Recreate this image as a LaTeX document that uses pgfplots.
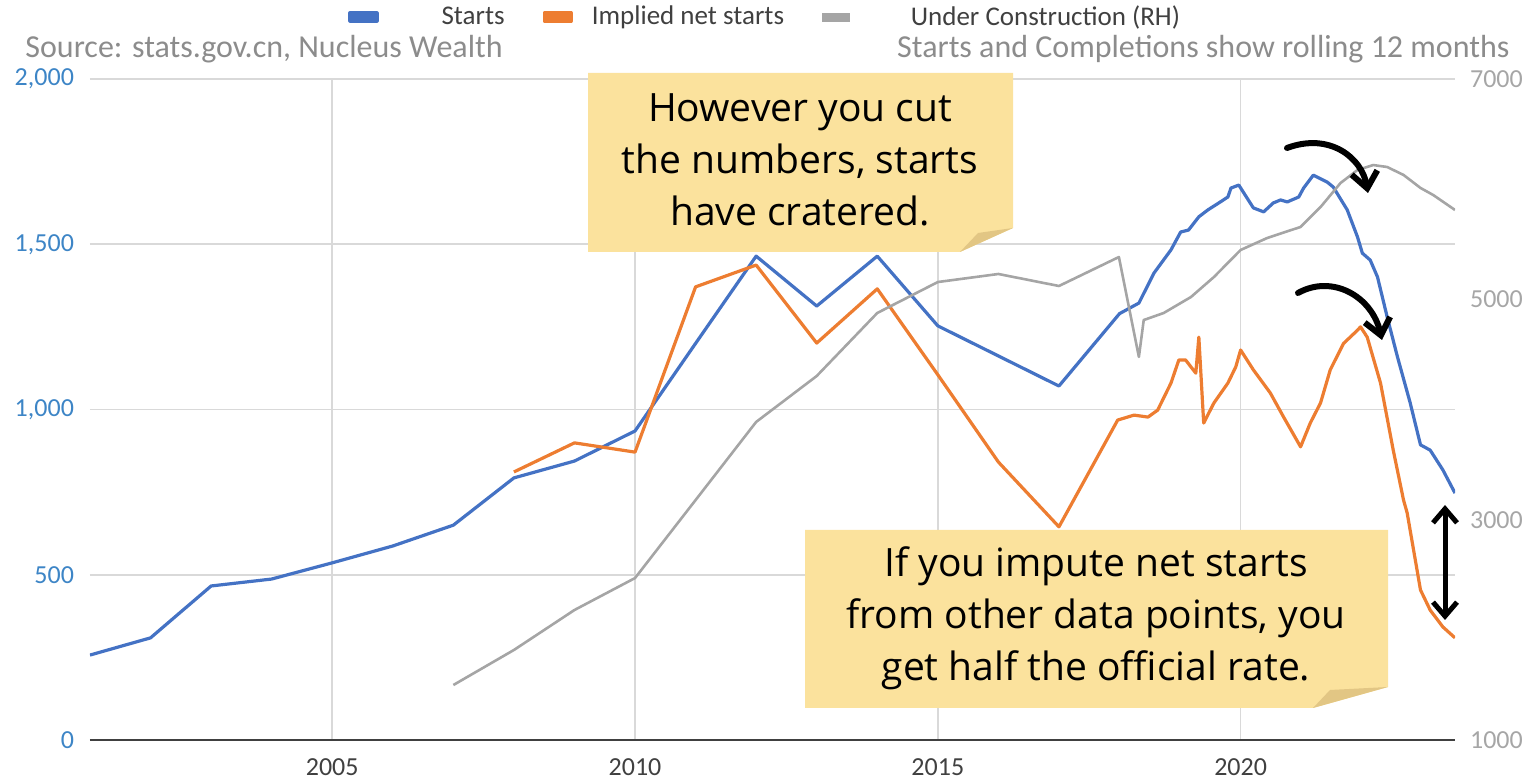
\documentclass[border=0pt]{standalone}
\usepackage{fontspec}
\setmainfont{Carlito}
\newfontfamily\notefont{Open Sans}
\usepackage{pgfplots}
\pgfplotsset{compat=1.18}
\usetikzlibrary{arrows.meta}
\definecolor{cblue}{HTML}{4472C4}
\definecolor{corange}{HTML}{ED7D31}
\definecolor{cgray}{HTML}{A5A5A5}
\definecolor{gridc}{HTML}{D9D9D9}
\definecolor{axisc}{HTML}{404040}
\definecolor{ytl}{HTML}{3D85C6}
\definecolor{rtl}{HTML}{A6A6A6}
\definecolor{xlab}{HTML}{404040}
\definecolor{srcc}{HTML}{8C8C8C}
\definecolor{legc}{HTML}{404040}
\definecolor{notefill}{HTML}{FBE29D}
\definecolor{notefold}{HTML}{E2C684}

\pgfplotstableread{
x y
2001 257
2002 309
2003 466
2004 487
2005 536
2006 587
2007 650
2008 793
2009 844
2010 935
2011 1200
2012 1464
2013 1313
2014 1464
2015 1253
2016 1162
2017 1071
2018.0 1290
2018.32 1322
2018.57 1413
2018.85 1483
2019.01 1537
2019.14 1543
2019.31 1583
2019.46 1604
2019.64 1625
2019.79 1643
2019.84 1670
2019.97 1679
2020.21 1610
2020.38 1598
2020.54 1625
2020.66 1634
2020.77 1628
2020.96 1643
2021.04 1670
2021.2 1709
2021.43 1688
2021.53 1673
2021.76 1604
2021.93 1522
2022.01 1473
2022.14 1452
2022.26 1401
2022.42 1280
2022.59 1159
2022.8 1020
2022.97 893
2023.13 877
2023.34 817
2023.54 747
}\starts

\pgfplotstableread{
x y
2008 811
2009 899
2010 871
2011 1371
2012 1437
2013 1201
2014 1365
2015 1105
2016 841
2017 645
2017.97 968
2018.24 983
2018.47 977
2018.63 998
2018.85 1080
2018.98 1150
2019.09 1150
2019.26 1110
2019.31 1219
2019.39 959
2019.56 1020
2019.79 1080
2019.92 1129
2020.0 1180
2020.21 1120
2020.49 1050
2020.71 977
2020.99 887
2021.15 959
2021.32 1020
2021.48 1120
2021.7 1200
2021.81 1219
2021.93 1240
2021.98 1250
2022.09 1219
2022.31 1080
2022.52 877
2022.69 726
2022.75 687
2022.97 454
2023.13 393
2023.34 342
2023.54 309
}\netstarts

\pgfplotstableread{
x y
2007 1499
2008 1817
2009 2180
2010 2470
2011 3178
2012 3887
2013 4304
2014 4876
2015 5157
2016 5230
2017 5121
2017.99 5384
2018.32 4477
2018.4 4812
2018.73 4876
2019.18 5021
2019.56 5203
2020.0 5448
2020.44 5557
2020.99 5657
2021.32 5838
2021.65 6056
2021.93 6174
2022.19 6219
2022.42 6201
2022.69 6129
2022.97 6011
2023.18 5947
2023.54 5811
}\undercon

\begin{document}
\begin{tikzpicture}
\path[use as bounding box] (0,0) rectangle (769pt,390pt);
\begin{axis}[
  at={(45pt,20pt)}, anchor=south west,
  scale only axis, width=682.5pt, height=330.5pt,
  xmin=2001, xmax=2023.54, ymin=0, ymax=2000,
  xtick={2005,2010,2015,2020}, ytick={0,500,1000,1500,2000},
  scaled ticks=false,
  /pgf/number format/assume math mode=true,
  xticklabel style={/pgf/number format/1000 sep={}, font=\fontsize{13}{15}\selectfont, text=xlab, yshift=-6pt},
  yticklabel style={/pgf/number format/1000 sep={,}, font=\fontsize{13}{15}\selectfont, text=ytl, xshift=-4.5pt},
  grid=major, grid style={draw=gridc, line width=0.8pt},
  axis x line*=bottom, axis y line*=left,
  x axis line style={-, draw=axisc, line width=1pt},
  y axis line style={draw=none},
  major tick length=0pt,
  legend columns=3,
  legend style={at={(0.189,1.0938)}, anchor=west, draw=none, fill=none, inner sep=0pt,
    font=\fontsize{13.5}{15}\selectfont, text=legc,
    nodes={inner sep=0pt},
    /tikz/every odd column/.append style={column sep=9.5pt},
    /tikz/every even column/.append style={column sep=19pt}},
  legend image code/.code={\fill[#1] (0pt,-2pt) rectangle (13.5pt,2pt);},
]
\addplot[color=cblue, line width=1.6pt, line join=round] table[x=x,y=y] {\starts};
\addlegendentry{\hspace{22pt}Starts}
\addplot[color=corange, line width=1.6pt, line join=round] table[x=x,y=y] {\netstarts};
\addlegendentry{Implied net starts}
\addlegendimage{color=cgray}
\addlegendentry{\hspace{21pt}Under Construction (RH)}
\end{axis}
\begin{axis}[
  at={(45pt,20pt)}, anchor=south west,
  scale only axis, width=682.5pt, height=330.5pt,
  xmin=2001, xmax=2023.54, ymin=1000, ymax=7000,
  ytick={1000,3000,5000,7000},
  scaled ticks=false,
  /pgf/number format/assume math mode=true,
  axis x line=none, axis y line*=right,
  y axis line style={draw=none},
  major tick length=0pt,
  yticklabel style={/pgf/number format/1000 sep={}, font=\fontsize{13}{15}\selectfont, text=rtl, xshift=4pt},
]
\addplot[color=cgray, line width=1.3pt, line join=round] table[x=x,y=y] {\undercon};
\end{axis}

\begin{scope}[shift={(0pt,390pt)}, x=0.5pt, y=-0.5pt]
  % header texts
  \node[anchor=base west, inner sep=0pt, text=srcc, font=\fontsize{16}{18}\selectfont] at (25,58) {Source: stats.gov.cn, Nucleus Wealth};
  \node[anchor=base east, inner sep=0pt, text=srcc, font=\fontsize{16}{18}\selectfont] at (1510,58) {Starts and Completions show rolling 12 months};
  % note 1
  \fill[notefill] (588,73) -- (1013,73) -- (1013,228) -- (960,252) -- (588,252) -- cycle;
  \fill[notefold] (960,252) -- (978,233) -- (1013,228) -- cycle;
  \begin{scope}[every node/.style={anchor=base, inner sep=0pt, font=\notefont\fontsize{19.5}{24}\selectfont}]
    \node at (800,122) {However you cut};
    \node at (800,174) {the numbers, starts};
    \node at (800,226) {have cratered.};
  \end{scope}
  % note 2
  \fill[notefill] (805,530) -- (1388,530) -- (1388,687) -- (1313,708) -- (805,708) -- cycle;
  \fill[notefold] (1313,708) -- (1330,690) -- (1388,687) -- cycle;
  \begin{scope}[every node/.style={anchor=base, inner sep=0pt, font=\notefont\fontsize{19.5}{24}\selectfont}]
    \node at (1096,577) {If you impute net starts};
    \node at (1096,629) {from other data points, you};
    \node at (1096,681) {get half the official rate.};
  \end{scope}
  % arrows
  \draw[line width=3pt, line cap=round, -{Straight Barb[length=8pt,width=13pt]}] (1287,148) .. controls (1330,132) and (1362,158) .. (1368,193);
  \draw[line width=3pt, line cap=round, -{Straight Barb[length=8pt,width=13pt]}] (1298,293) .. controls (1332,274) and (1372,296) .. (1382,340);
  \draw[line width=2.5pt, {Straight Barb[length=7pt,width=12pt]}-{Straight Barb[length=7pt,width=12pt]}] (1445,505) -- (1445,620);
\end{scope}
\end{tikzpicture}
\end{document}
